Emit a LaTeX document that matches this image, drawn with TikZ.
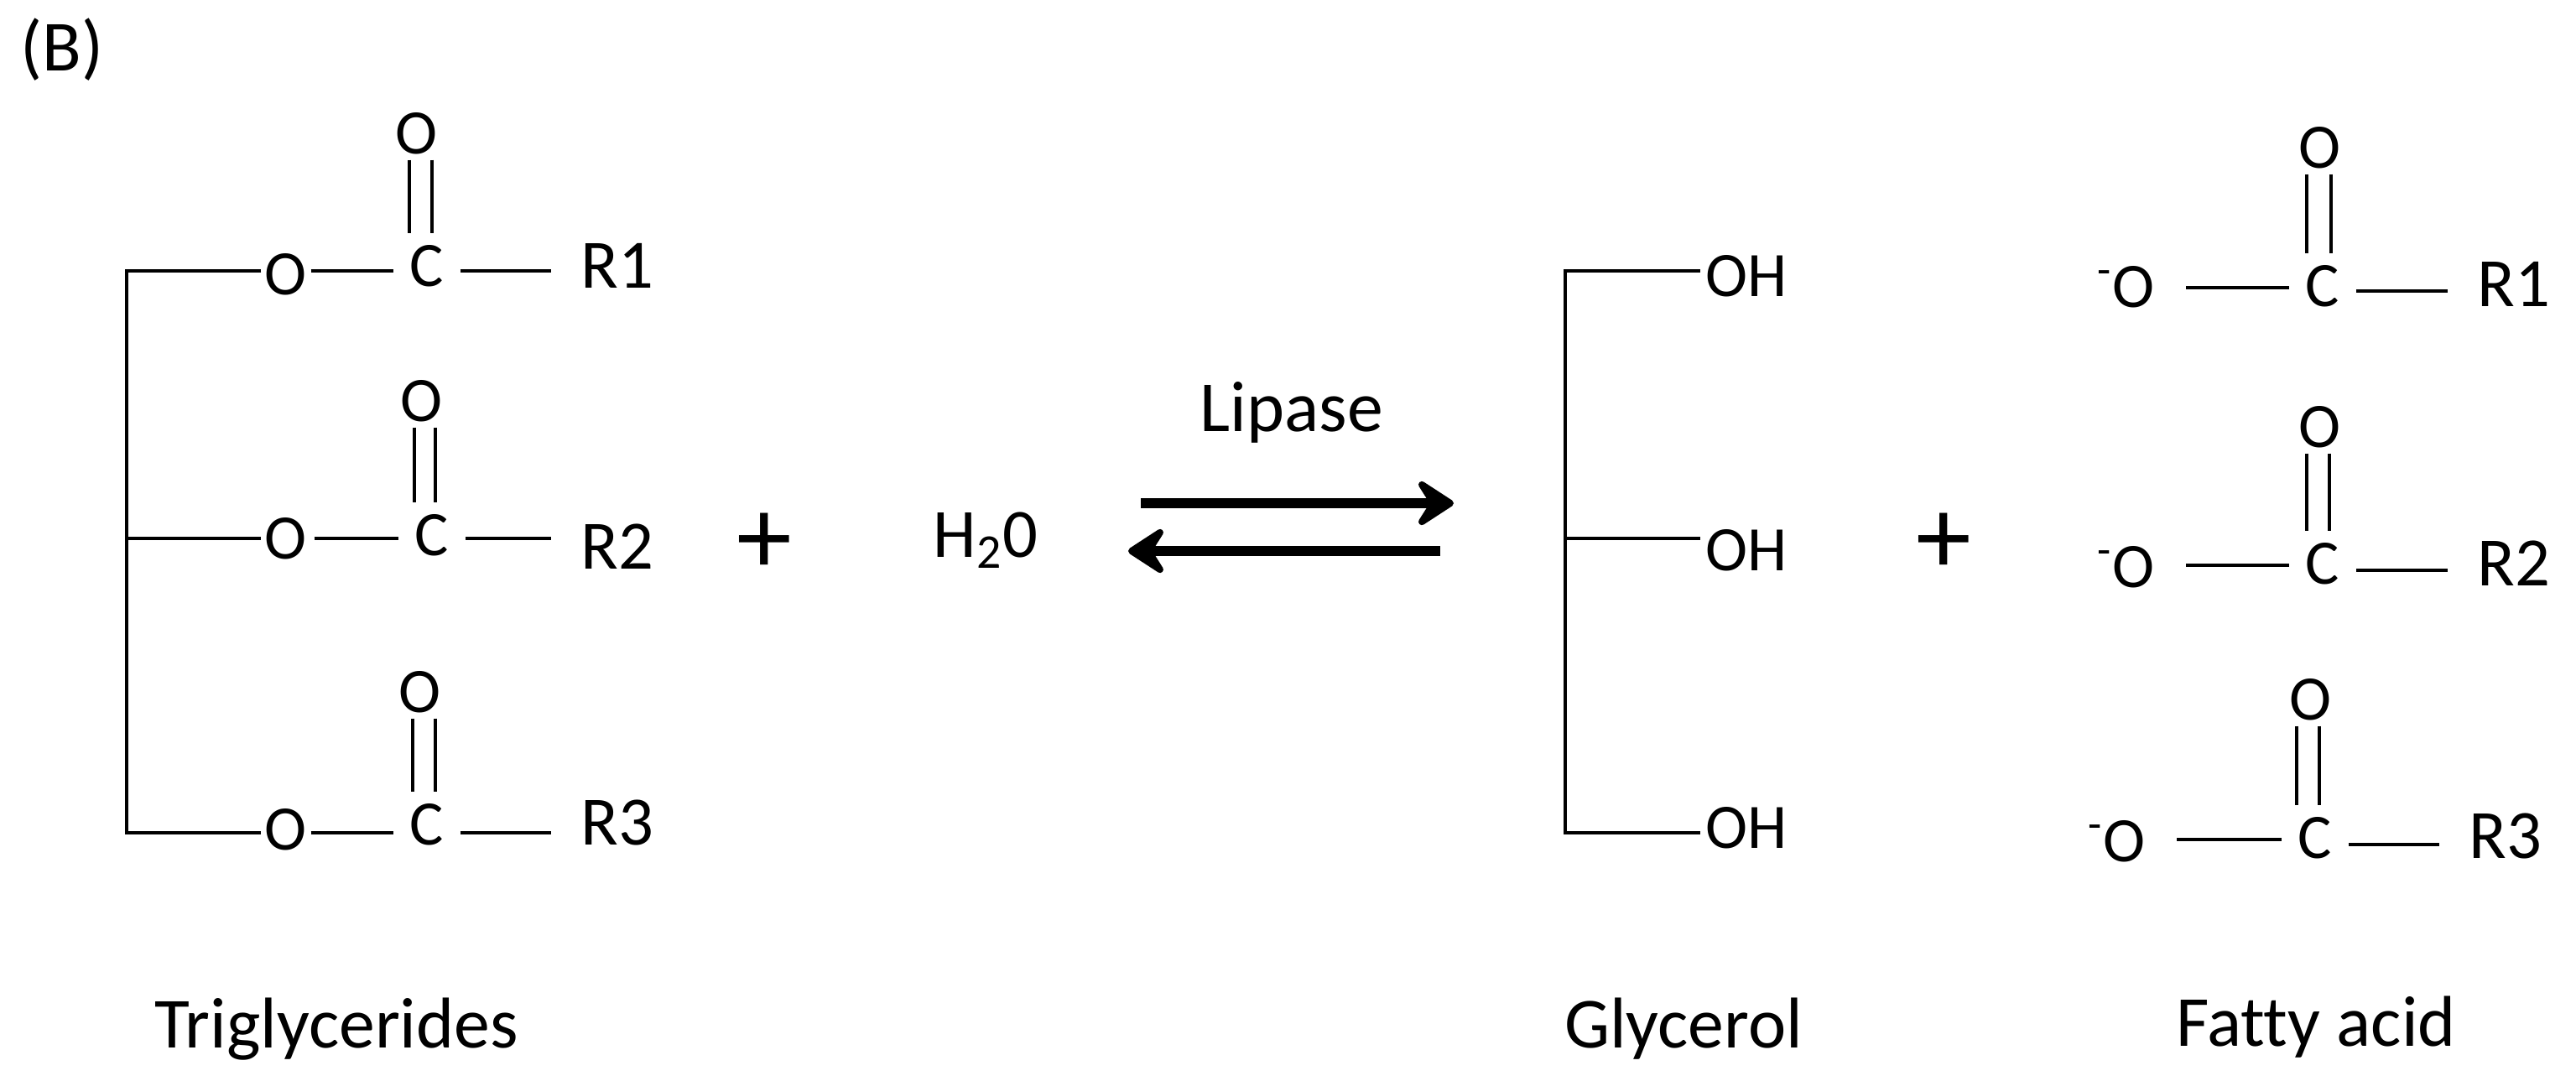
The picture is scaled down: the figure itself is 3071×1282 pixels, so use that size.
\documentclass[tikz,border=0pt]{standalone}
\usepackage{fontspec}
\setmainfont{Carlito}[Ligatures=NoCommon]
\usetikzlibrary{arrows.meta}
\tikzset{
    atom/.style={font=\fontsize{21.5}{26}\selectfont,text height=0.48cm,text depth=0pt,inner xsep=0.04cm,inner ysep=0.07cm},
    carbon/.style={atom,inner xsep=0.19cm,inner ysep=0.14cm},
    hydroxyl/.style={atom,inner xsep=0.06cm},
    anion/.style={atom,anchor=east,inner xsep=0.37cm},
    rgroup/.style={font=\fontsize{23.5}{28}\selectfont,text height=0.53cm,text depth=0pt,inner xsep=0.35cm,inner ysep=0.08cm},
    caption/.style={font=\fontsize{24.4}{29}\selectfont,text height=0.54cm,text depth=0pt,inner sep=0pt},
    plussign/.style={font=\fontsize{37.5}{40}\selectfont,inner sep=0pt},
    bond/.style={line width=0.045cm},
    reaction/.style={line width=0.12cm,-{Stealth[length=0.54cm,width=0.7cm,inset=0.22cm,round]}}
}
\begin{document}
\begin{tikzpicture}[x=0.1mm,y=-0.1mm]
            \useasboundingbox (0,0) rectangle (3071,1282);

            \node[caption] (panel) at (74,57) {(B)};

            \coordinate (a1) at (151,323);
            \coordinate (a2) at (151,642);
            \coordinate (a3) at (151,993);
            \node[atom] (o1) at (341,327) {O};
            \node[atom] (o2) at (341,642) {O};
            \node[atom] (o3) at (341,989) {O};
            \node[carbon] (c1) at (509,317) {C};
            \node[carbon] (c2) at (515,638) {C};
            \node[carbon] (c3) at (509,983) {C};
            \node[atom] (k1) at (497,159) {O};
            \node[atom] (k2) at (503,478) {O};
            \node[atom] (k3) at (501,825) {O};
            \node[rgroup] (r1) at (736,317) {R1};
            \node[rgroup] (r2) at (736,652) {R2};
            \node[rgroup] (r3) at (736,981) {R3};

            \draw[bond] (o1.west |- a1) -- (a1) -- (a3) -- (o3.west |- a3);
            \draw[bond] (a2) -- (o2.west |- a2);
            \draw[bond] (o1.east |- a1) -- (c1.west |- a1);
            \draw[bond] ([xshift=0.04cm]o2.east |- a2) -- (c2.west |- a2);
            \draw[bond] (o3.east |- a3) -- (c3.west |- a3);
            \draw[bond] (c1.east |- a1) -- (r1.west |- a1);
            \draw[bond] (c2.east |- a2) -- (r2.west |- a2);
            \draw[bond] (c3.east |- a3) -- (r3.west |- a3);
            \draw[bond] ([xshift=-0.09cm]k1.south) -- ([xshift=-0.09cm]k1.south |- c1.north);
            \draw[bond] ([xshift=0.18cm]k1.south) -- ([xshift=0.18cm]k1.south |- c1.north);
            \draw[bond] ([xshift=-0.09cm]k2.south) -- ([xshift=-0.09cm]k2.south |- c2.north);
            \draw[bond] ([xshift=0.16cm]k2.south) -- ([xshift=0.16cm]k2.south |- c2.north);
            \draw[bond] ([xshift=-0.09cm]k3.south) -- ([xshift=-0.09cm]k3.south |- c3.north);
            \draw[bond] ([xshift=0.18cm]k3.south) -- ([xshift=0.18cm]k3.south |- c3.north);

            \node[plussign] (plusa) at (911,648) {+};
            \node[rgroup] (water) at (1175,638) {H\textsubscript{2}0};

            \node[caption] (lipase) at (1540,487) {Lipase};
            \coordinate (fa) at (1360,600);
            \coordinate (fb) at (1733,600);
            \coordinate (ba) at (1717,657);
            \coordinate (bb) at (1345,657);
            \draw[reaction] (fa) -- (fb);
            \draw[reaction] (ba) -- (bb);

            \coordinate (g1) at (1866,323);
            \coordinate (g2) at (1866,642);
            \coordinate (g3) at (1866,993);
            \node[hydroxyl] (oh1) at (2082,329) {OH};
            \node[hydroxyl] (oh2) at (2082,656) {OH};
            \node[hydroxyl] (oh3) at (2082,987) {OH};
            \draw[bond] (oh1.west |- g1) -- (g1) -- (g3) -- (oh3.west |- g3);
            \draw[bond] (g2) -- (oh2.west |- g2);

            \node[plussign] (plusb) at (2317,648) {+};

            \coordinate (f1) at (2606,343);
            \coordinate (f2) at (2606,674);
            \coordinate (f3) at (2595,1001);
            \coordinate (e1) at (2808,347);
            \coordinate (e2) at (2808,680);
            \coordinate (e3) at (2799,1007);
            \node[anion] (m1) at (f1 |- 0,342) {\textsuperscript{-}O};
            \node[anion] (m2) at (f2 |- 0,676) {\textsuperscript{-}O};
            \node[anion] (m3) at (f3 |- 0,1003) {\textsuperscript{-}O};
            \node[carbon] (d1) at (2769,341) {C};
            \node[carbon] (d2) at (2769,672) {C};
            \node[carbon] (d3) at (2760,999) {C};
            \node[atom] (t1) at (2765,176) {O};
            \node[atom] (t2) at (2765,509) {O};
            \node[atom] (t3) at (2754,834) {O};
            \node[rgroup] (s1) at (2997,339) {R1};
            \node[rgroup] (s2) at (2997,672) {R2};
            \node[rgroup] (s3) at (2987,997) {R3};

            \draw[bond] (m1.east |- f1) -- (d1.west |- f1);
            \draw[bond] (m2.east |- f2) -- (d2.west |- f2);
            \draw[bond] (m3.east |- f3) -- (d3.west |- f3);
            \draw[bond] (d1.east |- e1) -- (s1.west |- e1);
            \draw[bond] (d2.east |- e2) -- (s2.west |- e2);
            \draw[bond] (d3.east |- e3) -- (s3.west |- e3);
            \draw[bond] ([xshift=-0.15cm]t1.south) -- ([xshift=-0.15cm]t1.south |- d1.north);
            \draw[bond] ([xshift=0.14cm]t1.south) -- ([xshift=0.14cm]t1.south |- d1.north);
            \draw[bond] ([xshift=-0.15cm]t2.south) -- ([xshift=-0.15cm]t2.south |- d2.north);
            \draw[bond] ([xshift=0.12cm]t2.south) -- ([xshift=0.12cm]t2.south |- d2.north);
            \draw[bond] ([xshift=-0.16cm]t3.south) -- ([xshift=-0.16cm]t3.south |- d3.north);
            \draw[bond] ([xshift=0.11cm]t3.south) -- ([xshift=0.11cm]t3.south |- d3.north);

            \node[caption] (triglycerides) at (401,1222) {Triglycerides};
            \node[caption] (glycerol) at (2007,1222) {Glycerol};
            \node[caption] (fatty) at (2761,1220) {Fatty acid};
\end{tikzpicture}
\end{document}
